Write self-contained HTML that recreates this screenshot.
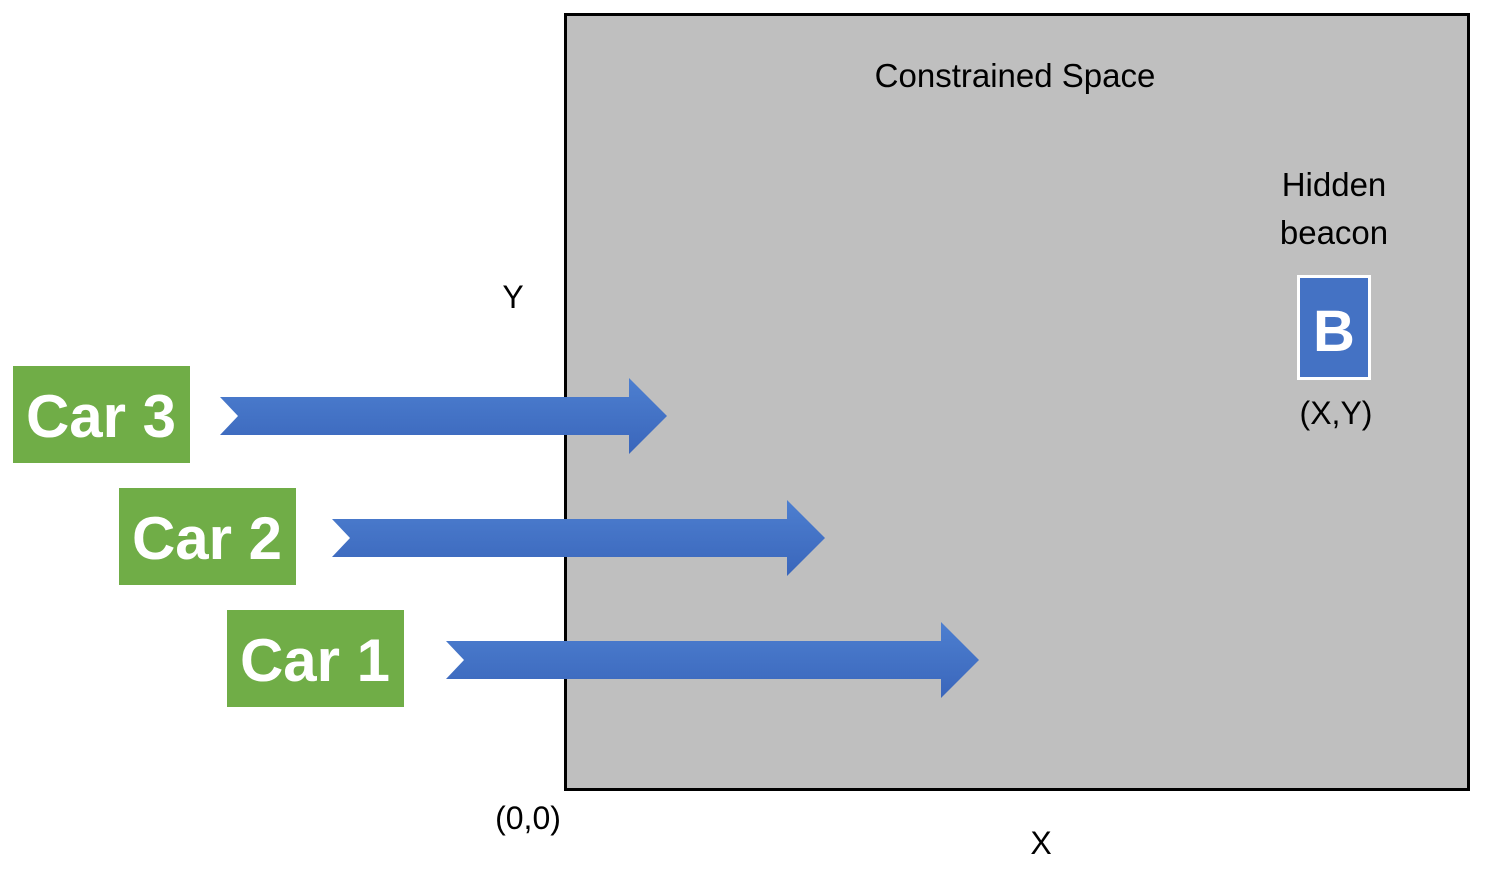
<!DOCTYPE html>
<html><head><meta charset="utf-8"><style>
html,body{margin:0;padding:0;background:#fff;}
svg{display:block;font-family:"Liberation Sans",sans-serif;}
</style></head><body>
<svg id="chart" width="1488" height="890" viewBox="0 0 1488 890">
<defs><linearGradient id="ag" x1="0" y1="0" x2="0" y2="1"><stop offset="0" stop-color="#4d7fd0"/><stop offset="1" stop-color="#3a66bb"/></linearGradient></defs>
<rect x="565.5" y="14.5" width="903" height="775" fill="#bfbfbf" stroke="#000" stroke-width="3"/>
<text x="1015" y="87" font-size="33" text-anchor="middle" fill="#000">Constrained Space</text>
<text x="1334" y="196" font-size="33" text-anchor="middle">Hidden</text>
<text x="1334" y="244" font-size="33" text-anchor="middle">beacon</text>
<rect x="1298.5" y="276.5" width="71" height="102" fill="#4472c4" stroke="#fff" stroke-width="3"/>
<text x="1334" y="351" font-size="58" font-weight="bold" fill="#fff" text-anchor="middle">B</text>
<text x="1336" y="424" font-size="32" text-anchor="middle">(X,Y)</text>
<text x="513" y="308" font-size="32" text-anchor="middle">Y</text>
<text x="528" y="829" font-size="32" text-anchor="middle">(0,0)</text>
<text x="1041" y="854" font-size="32" text-anchor="middle">X</text>
<g id="cars"></g>
</svg>
<script>
const carNames=["Car 3","Car 2","Car 1"];
const boxX=[13,119,227];
const boxY=[366,488,610];
const tailX=[220,332,446];
const headX=[667,825,979];
const g=document.getElementById('cars');
const NS="http://www.w3.org/2000/svg";
carNames.forEach((n,i)=>{
  const r=document.createElementNS(NS,'rect');
  r.setAttribute('x',boxX[i]);r.setAttribute('y',boxY[i]);r.setAttribute('width',177);r.setAttribute('height',97);r.setAttribute('fill','#70ad47');
  
  
  g.appendChild(r);
  const t=document.createElementNS(NS,'text');
  t.setAttribute('x',boxX[i]+88);t.setAttribute('y',boxY[i]+71);t.setAttribute('font-size','60');t.setAttribute('font-weight','bold');t.setAttribute('fill','#fff');t.setAttribute('text-anchor','middle');
  t.textContent=n;
  
  
  g.appendChild(t);
  const cy=boxY[i]+50, tx=tailX[i], hx=headX[i], hb=hx-38;
  const p=document.createElementNS(NS,'path');
  p.setAttribute('d',`M${tx} ${cy-19} L${hb} ${cy-19} L${hb} ${cy-38} L${hx} ${cy} L${hb} ${cy+38} L${hb} ${cy+19} L${tx} ${cy+19} L${tx+18} ${cy} Z`);
  p.setAttribute('fill','url(#ag)');
  
  
  g.appendChild(p);
});
</script>
</body></html>
